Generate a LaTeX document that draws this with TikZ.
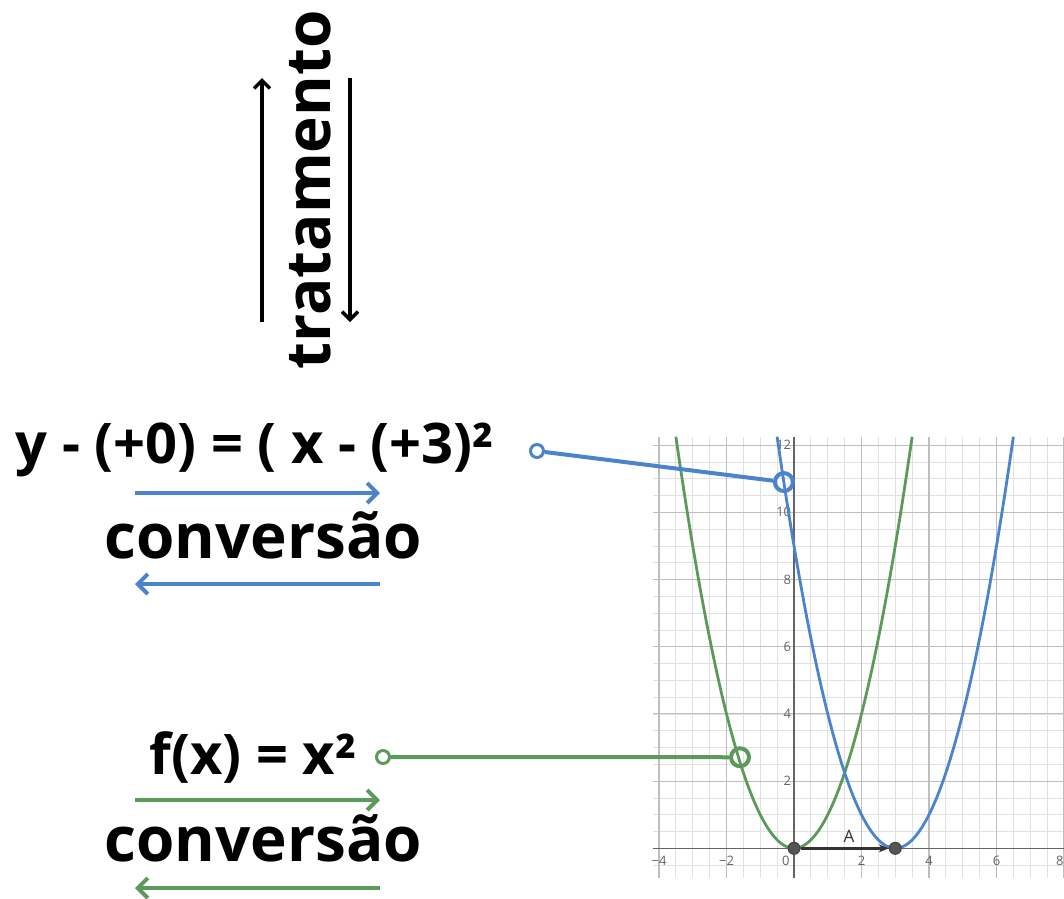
\documentclass[tikz,border=0pt]{standalone}
\usepackage{fontspec}
\setmainfont{Open Sans}
\usepackage{tikz}
\usetikzlibrary{arrows.meta}
\definecolor{convblue}{RGB}{74,132,204}
\definecolor{convgreen}{RGB}{92,154,92}
\definecolor{gridmajor}{RGB}{190,190,190}
\definecolor{gridminor}{RGB}{225,225,225}
\definecolor{axisgray}{RGB}{100,100,100}
\definecolor{pointgray}{RGB}{85,85,85}

\begin{document}
\begin{tikzpicture}[x=1pt, y=-1pt,
    wordtext/.style={font=\fontsize{62}{70}\selectfont\bfseries, inner sep=0pt},
    eqtext/.style={font=\fontsize{56}{66}\selectfont\bfseries, inner sep=0pt},
    convarrow/.style={line width=4pt, -{Straight Barb[length=10pt, width=20pt, line width=4pt]}},
    treatarrow/.style={line width=3.4pt, -{Straight Barb[length=8pt, width=16pt, line width=3.4pt]}},
    pointer/.style={circle, draw, line width=3pt, minimum size=13pt, inner sep=0pt},
    target/.style={circle, draw, line width=4pt, minimum size=18pt, inner sep=0pt},
    ticklabel/.style={font=\fontsize{13}{14}\selectfont, text=axisgray, inner sep=1pt}]
    \useasboundingbox[fill=white] (0,0) rectangle (1064,898);

    % Tratamento (rotated) with its two arrows
    \node[wordtext, rotate=90, anchor=base] (treat) at (330,190) {tratamento};
    \coordinate (upA) at (262,322);
    \coordinate (upB) at (262,78);
    \coordinate (downA) at (350,78);
    \coordinate (downB) at (350,322);
    \draw[treatarrow] (upA) -- (upB);
    \draw[treatarrow] (downA) -- (downB);

    % Quadratic in vertex form
    \node[eqtext] (eqvertex) at (255,450) {y - (+0) = ( x - (+3)²};
    \node[wordtext] (convtop) at (263,535) {conversão};
    \coordinate (btA) at (135,493);
    \coordinate (btB) at (380,493);
    \coordinate (bbA) at (380,584);
    \coordinate (bbB) at (135,584);
    \draw[convarrow, convblue] (btA) -- (btB);
    \draw[convarrow, convblue] (bbA) -- (bbB);

    % Basic quadratic
    \node[eqtext] (eqbasic) at (253,757) {f(x) = x²};
    \node[wordtext] (convbot) at (263,838) {conversão};
    \coordinate (gtA) at (135,800);
    \coordinate (gtB) at (380,800);
    \coordinate (gbA) at (380,888);
    \coordinate (gbB) at (135,888);
    \draw[convarrow, convgreen] (gtA) -- (gtB);
    \draw[convarrow, convgreen] (gbA) -- (gbB);

    % Graph window (units of the plot)
    \begin{scope}[shift={(794,848.3)}, x=33.75pt, y=33.6pt]
      % minor and major grid
      \foreach \gx in {-4,-3.5,...,8}
        \draw[gridminor, line width=0.8pt] (\gx,-0.88) -- (\gx,12.25);
      \foreach \gy in {-0.5,0,...,12}
        \draw[gridminor, line width=0.8pt] (-4.18,\gy) -- (8,\gy);
      \foreach \gx in {-4,-2,2,4,6,8}
        \draw[gridmajor, line width=1.1pt] (\gx,-0.88) -- (\gx,12.25);
      \foreach \gy in {2,4,...,12}
        \draw[gridmajor, line width=1.1pt] (-4.18,\gy) -- (8,\gy);
      % axes
      \draw[axisgray, line width=1.6pt] (-4.18,0) -- (8,0);
      \draw[axisgray, line width=1.6pt] (0,-0.88) -- (0,12.25);
      % tick labels
      \foreach \gx/\txt in {-4/−4,-2/−2,2/2,4/4,6/6}
        \node[ticklabel, anchor=north] at (\gx,-0.2) {\txt};
      \node[ticklabel, anchor=north east] at (8.02,-0.2) {8};
      \node[ticklabel, anchor=north east] at (-0.1,-0.2) {0};
      \foreach \gy in {2,4,...,12}
        \node[ticklabel, anchor=east] at (-0.05,\gy) {\gy};
      % curves
      \draw[convgreen, line width=2.8pt, domain=-3.5:3.5, samples=120] plot (\x,{\x*\x});
      \draw[convblue, line width=2.8pt, domain=-0.5:6.5, samples=120] plot (\x,{(\x-3)*(\x-3)});
      % translation vector
      \node[circle, fill=pointgray, draw=black!75, line width=1pt, minimum size=12pt, inner sep=0pt] (origin) at (0,0) {};
      \node[circle, fill=pointgray, draw=black!75, line width=1pt, minimum size=12pt, inner sep=0pt] (vertex) at (3,0) {};
      \draw[black!80, line width=2.6pt, -{Stealth[length=10pt, width=8pt]}] (origin) -- (vertex);
      \node[font=\fontsize{17}{18}\selectfont, text=black!80] (vecA) at (1.63,0.34) {A};
      % points picked on the curves
      \node[target, convblue] (bluept) at (-0.3,10.9) {};
      \node[target, convgreen] (greenpt) at (-1.6,2.71) {};
    \end{scope}

    % pointers from the formulas to the curves
    \node[pointer, convblue] (eqdot) at (537,451) {};
    \node[pointer, convgreen] (fdot) at (383,757) {};
    \draw[convblue, line width=4pt] (eqdot) -- (bluept);
    \draw[convgreen, line width=4pt] (fdot) -- (greenpt);
\end{tikzpicture}
\end{document}
